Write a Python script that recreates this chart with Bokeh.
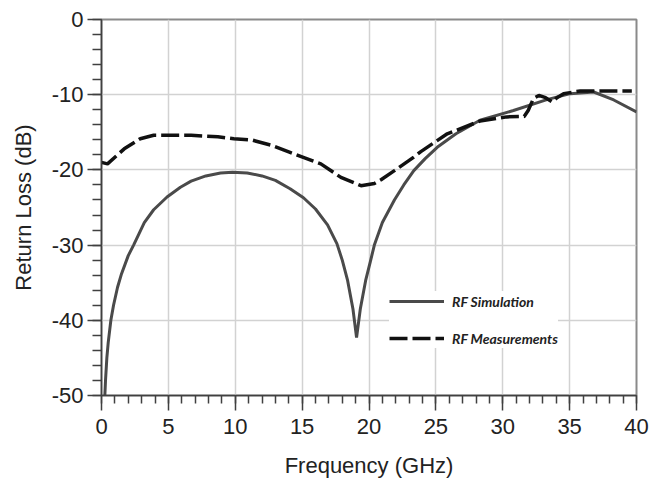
from bokeh.plotting import figure
from bokeh.models import Range1d, FixedTicker, Legend, LegendItem
from bokeh.embed import file_html
from bokeh.resources import INLINE

# ---- data ----
sim_f = [0.25, 0.3, 0.4, 0.5, 0.7, 0.9, 1.2, 1.5, 2.0, 2.4, 2.8, 3.2, 3.9, 4.9,
         5.9, 6.7, 7.8, 8.9, 9.8, 10.9, 12.0, 13.0, 14.1, 15.1, 16.0, 16.9,
         17.6, 18.0, 18.4, 18.8, 19.07, 19.35, 19.75, 20.1, 20.4, 21.0, 21.9,
         22.6, 23.35, 24.2, 25.1, 26.5, 28.3, 30.8, 33.3, 35.05, 36.8, 38.3, 40.0]
sim_rl = [-50, -48, -45, -43, -40, -38, -35.6, -33.8, -31.4, -30, -28.5, -27.0,
          -25.3, -23.6, -22.3, -21.5, -20.8, -20.4, -20.3, -20.4, -20.8, -21.4,
          -22.5, -23.7, -25.2, -27.3, -29.8, -32, -34.7, -38.5, -42.3, -38.5,
          -34.7, -32.2, -30, -27, -24, -22, -20.1, -18.5, -17.0, -15.2, -13.4,
          -12.1, -10.65, -9.86, -9.64, -10.7, -12.3]

mea_f = [0, 0.45, 1.7, 2.9, 3.9, 6.7, 8.7, 9.9, 11.3, 12.65, 14.0, 16.4, 17.9,
         19.4, 20.4, 20.9, 21.9, 23.35, 23.85, 25.85, 28.3, 30.3, 31.6, 31.9,
         32.3, 32.7, 33.2, 33.7, 34.05, 34.55, 35.8, 39.65]
mea_rl = [-19.0, -19.2, -17.2, -15.85, -15.4, -15.4, -15.6, -15.85, -16.05, -16.7,
          -17.6, -19.2, -21.0, -22.1, -21.8, -21.3, -20.1, -18.3, -17.6, -15.2,
          -13.5, -12.95, -12.9, -12.1, -10.5, -10.1, -10.4, -10.97, -10.4, -9.86,
          -9.5, -9.5]

x_ticks = [0, 5, 10, 15, 20, 25, 30, 35, 40]
x_labels = ["0", "5", "10", "15", "20", "25", "30", "35", "40"]
x_minor = list(range(0, 41))
y_ticks = [-50, -40, -30, -20, -10, 0]
y_labels = ["-50", "-40", "-30", "-20", "-10", "0"]
y_minor = list(range(-50, 1, 2))

series_names = ["RF Simulation", "RF Measurements"]

# ---- figure ----
p = figure(width=649, height=487, x_range=Range1d(0, 40), y_range=Range1d(-50, 0),
           output_backend="svg", toolbar_location=None,
           min_border_left=101, min_border_right=13, min_border_top=19,
           min_border_bottom=92)

p.outline_line_color = "#8a8a8a"
p.outline_line_width = 2
p.outline_line_alpha = 1

for g in (p.xgrid, p.ygrid):
    g.grid_line_color = "#d2d2d2"
    g.grid_line_width = 1.5

p.xaxis.ticker = FixedTicker(ticks=x_ticks, minor_ticks=x_minor)
p.yaxis.ticker = FixedTicker(ticks=y_ticks, minor_ticks=y_minor)
p.xaxis.major_label_overrides = {t: l for t, l in zip(x_ticks, x_labels)}
p.yaxis.major_label_overrides = {t: l for t, l in zip(y_ticks, y_labels)}

for ax in (p.xaxis[0], p.yaxis[0]):
    ax.axis_line_color = "#404040"
    ax.axis_line_width = 1.5
    ax.major_tick_line_color = "#404040"
    ax.minor_tick_line_color = "#404040"
    ax.major_tick_line_width = 1.5
    ax.minor_tick_line_width = 1.5
    ax.major_tick_in = 0
    ax.minor_tick_in = 0
    ax.major_label_text_font = "Liberation Sans"
    ax.major_label_text_font_size = "22px"
    ax.major_label_text_color = "#222222"
    ax.axis_label_text_font = "Liberation Sans"
    ax.axis_label_text_font_style = "normal"
    ax.axis_label_text_color = "#222222"
    ax.axis_label_text_font_size = "22px"

p.xaxis.major_tick_out = 15
p.xaxis.minor_tick_out = 8
p.xaxis.major_label_standoff = 8
p.xaxis.axis_label = "Frequency (GHz)"
p.xaxis.axis_label_standoff = 16

p.yaxis.major_tick_out = 14
p.yaxis.minor_tick_out = 9
p.yaxis.major_label_standoff = 4
p.yaxis.axis_label = "Return Loss (dB)"
p.yaxis.axis_label_standoff = 13

r1 = p.line(sim_f, sim_rl, line_color="#4a4a4a", line_width=3)
r2 = p.line(mea_f, mea_rl, line_color="#111111", line_width=3.5, line_dash="18 5")

legend = Legend(items=[LegendItem(label=series_names[0], renderers=[r1]),
                       LegendItem(label=series_names[1], renderers=[r2])],
                location=(288, 47), glyph_width=55, glyph_height=20,
                label_height=20, spacing=17, padding=8, label_standoff=8,
                margin=0, border_line_color=None, background_fill_color="white",
                background_fill_alpha=1, label_text_font="Lato",
                label_text_font_style="bold italic", label_text_font_size="14px",
                label_text_color="#222222")
p.add_layout(legend)

open("out.html", "w").write(file_html(p, INLINE))
